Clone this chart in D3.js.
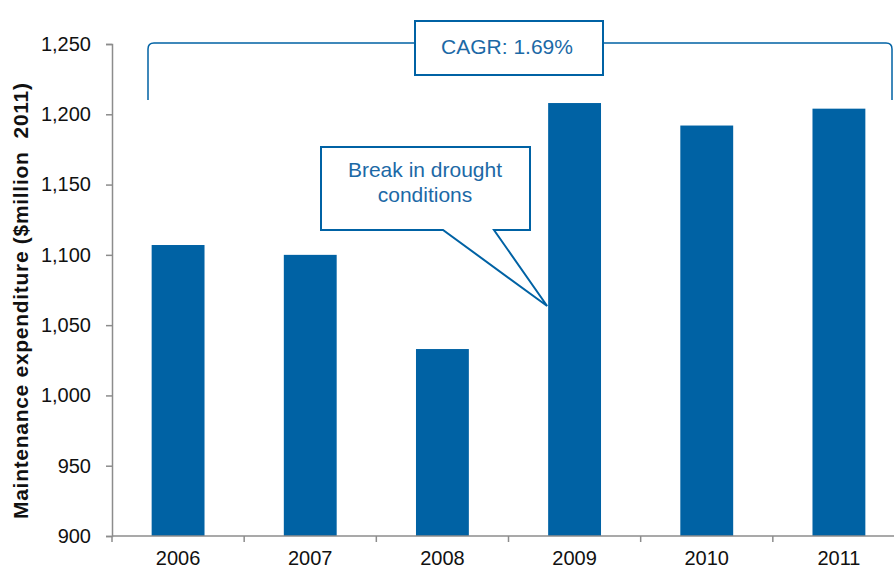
<!DOCTYPE html>
<html><head><meta charset="utf-8">
<script src="https://cdn.jsdelivr.net/npm/d3@7"></script>
<style>body{margin:0;background:#fff}svg{display:block;font-family:"Liberation Sans",Arial,sans-serif}</style>
</head><body>
<svg id="c" width="894" height="570"></svg>
<script>
const years = ["2006","2007","2008","2009","2010","2011"];
const values = [1107, 1100, 1033, 1208, 1192, 1204];
const yTicks = [900, 950, 1000, 1050, 1100, 1150, 1200, 1250];
const yTitle = "Maintenance expenditure ($million  2011)";
const cagrLabel = "CAGR: 1.69%";
const calloutLines = ["Break in drought", "conditions"];

(function(){
const svg = d3.select("#c");
const mLeft = 112, mRight = 905, mTop = 44, mBottom = 536;
const blue = "#0062a4", txtBlue = "#1c69a6", axisCol = "#8c8c8c";

const x = d3.scaleBand().domain(years).range([mLeft, mRight]).paddingInner(0.6).paddingOuter(0.3);
const y = d3.scaleLinear().domain([900, 1250]).range([mBottom, mTop]);

// bars
svg.append("g").selectAll("rect").data(years).join("rect")
  .attr("x", d => x(d)).attr("width", x.bandwidth())
  .attr("y", (d,i) => y(values[i])).attr("height", (d,i) => mBottom - y(values[i]))
  .attr("fill", blue);

// y axis
const ya = svg.append("g").attr("transform", `translate(${mLeft},0)`)
  .call(d3.axisLeft(y).tickValues(yTicks).tickSize(6).tickPadding(15).tickFormat(d3.format(",")));
ya.attr("font-size", null).attr("font-family", null);
ya.select(".domain").attr("stroke", axisCol).attr("stroke-width", 1.5);
ya.selectAll(".tick line").attr("stroke", axisCol).attr("stroke-width", 1.5);
ya.selectAll("text").attr("font-size", 20).attr("fill", "#111");

// x axis
const step = x.step();
const xa = svg.append("g").attr("transform", `translate(0,${mBottom})`);
xa.append("line").attr("x1", mLeft).attr("x2", 894).attr("y1", 0).attr("y2", 0).attr("stroke", axisCol).attr("stroke-width", 1.5);
const bounds = d3.range(years.length + 1).map(i => mLeft + i * step);
xa.selectAll("line.t").data(bounds).join("line").attr("class","t")
  .attr("x1", d => d).attr("x2", d => d).attr("y1", 0).attr("y2", 6)
  .attr("stroke", axisCol).attr("stroke-width", 1.5);
xa.selectAll("text").data(years).join("text")
  .attr("x", d => x(d) + x.bandwidth()/2).attr("y", 29)
  .attr("text-anchor", "middle").attr("font-size", 20).attr("fill", "#111").text(d => d);

// y title
svg.append("text").attr("transform", "translate(28,301) rotate(-90)")
  .attr("text-anchor", "middle").attr("font-size", 21).attr("font-weight", "bold").attr("fill", "#111")
  .attr("textLength", 436).attr("lengthAdjust", "spacing")
  .style("white-space", "pre")
  .text(yTitle);

// CAGR bracket
const bx1 = 148, bx2 = 892, by = 43, byb = 100, r = 6;
svg.append("path")
  .attr("d", `M${bx1},${byb} L${bx1},${by + r} Q${bx1},${by} ${bx1 + r},${by} L${bx2 - r},${by} Q${bx2},${by} ${bx2},${by + r} L${bx2},${byb}`)
  .attr("fill", "none").attr("stroke", blue).attr("stroke-width", 1.5);
svg.append("rect").attr("x", 415).attr("y", 21).attr("width", 188).attr("height", 54)
  .attr("fill", "#fff").attr("stroke", blue).attr("stroke-width", 2);
svg.append("text").attr("x", 507).attr("y", 54).attr("text-anchor", "middle")
  .attr("font-size", 21).attr("fill", txtBlue).text(cagrLabel);

// drought callout
const cx1 = 321, cx2 = 530, cy1 = 147, cy2 = 230;
const tipX = x("2009") - 1, tipY = 306;
svg.append("path")
  .attr("d", `M${cx1},${cy1} L${cx2},${cy1} L${cx2},${cy2} L494,${cy2} L${tipX},${tipY} L443,${cy2} L${cx1},${cy2} Z`)
  .attr("fill", "#fff").attr("stroke", blue).attr("stroke-width", 2).attr("stroke-linejoin", "miter");
svg.append("g").selectAll("text").data(calloutLines).join("text")
  .attr("x", 425).attr("y", (d,i) => 177 + i * 25).attr("text-anchor", "middle")
  .attr("font-size", 21).attr("fill", txtBlue).text(d => d);
})();
</script>
</body></html>
